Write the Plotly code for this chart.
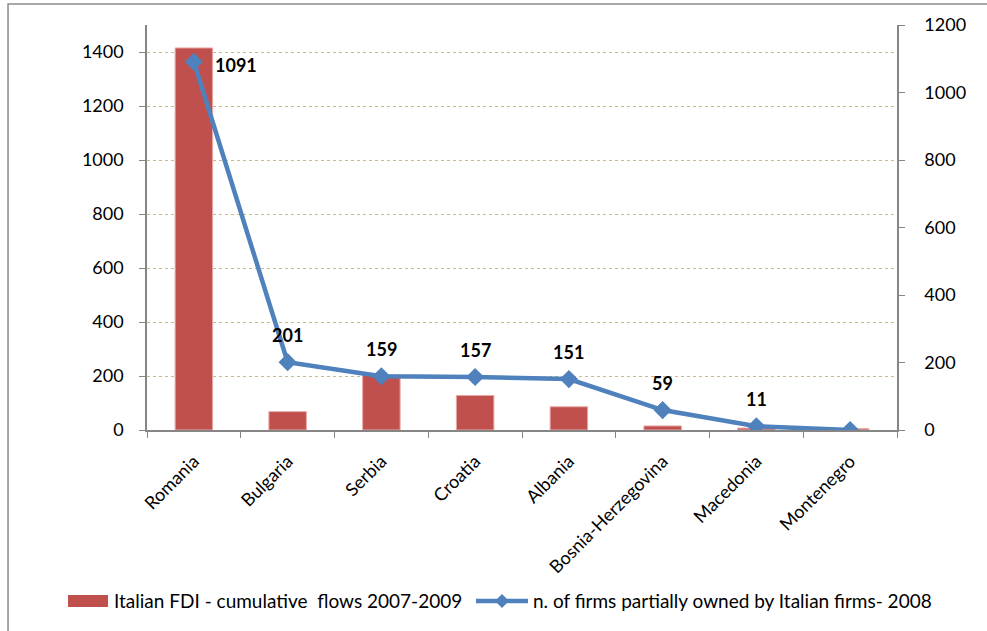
import plotly.graph_objects as go

# Countries and the two series
countries = ["Romania", "Bulgaria", "Serbia", "Croatia", "Albania",
             "Bosnia-Herzegovina", "Macedonia", "Montenegro"]
fdi_flows = [1415, 68, 204, 128, 86, 15, 7, 5]          # left axis
firms_owned = [1091, 201, 159, 157, 151, 59, 11, 0]     # right axis
firm_labels = ["1091", "201", "159", "157", "151", "59", "11", ""]

series_names = ["Italian FDI - cumulative  flows 2007-2009",
                "n. of firms partially owned by Italian firms- 2008"]

left_ticks = [0, 200, 400, 600, 800, 1000, 1200, 1400]
right_ticks = [0, 200, 400, 600, 800, 1000, 1200]

FONT = "Lato, 'Open Sans', sans-serif"
AXIS_GREY = "#868686"
BAR_RED = "#C0504D"
LINE_BLUE = "#4F81BD"

fig = go.Figure()

fig.add_trace(go.Bar(
    x=countries, y=fdi_flows,
    name=series_names[0],
    marker=dict(color=BAR_RED, line=dict(color="#E8A8A6", width=1)),
    width=0.4,
    yaxis="y",
))

fig.add_trace(go.Scatter(
    x=countries, y=firms_owned,
    name=series_names[1],
    mode="lines+markers",
    line=dict(color=LINE_BLUE, width=4.5),
    marker=dict(symbol="diamond", size=14, color=LINE_BLUE),
    yaxis="y2",
))

# Bold value labels for the line series
for i, (c, v, lab) in enumerate(zip(countries, firms_owned, firm_labels)):
    if not lab:
        continue
    if i == 0:
        xs, ys = 42, -3
    else:
        xs, ys = 0, 27
    fig.add_annotation(
        x=c, y=v, yref="y2", text=f"<b>{lab}</b>", showarrow=False,
        xshift=xs, yshift=ys,
        font=dict(family=FONT, size=18, color="#000000"),
    )

# Outer chart frame
fig.add_shape(type="rect", xref="paper", yref="paper",
              x0=-0.1853, x1=1.13, y0=-0.53, y1=1.0519,
              line=dict(color="#8c8c8c", width=1.5), fillcolor="rgba(0,0,0,0)",
              layer="below")

# Single-row legend below the chart
LEG_Y = -0.4222
fig.add_shape(type="rect", xref="paper", yref="paper",
              x0=-0.1053, x1=-0.052, y0=-0.437, y1=-0.4074,
              fillcolor=BAR_RED, line=dict(width=0))
fig.add_annotation(xref="paper", yref="paper", x=-0.0467, y=LEG_Y,
                   xanchor="left", yanchor="middle", showarrow=False,
                   text=series_names[0],
                   font=dict(family=FONT, size=19, color="#000000"))
fig.add_shape(type="line", xref="paper", yref="paper",
              x0=0.4387, x1=0.508, y0=LEG_Y, y1=LEG_Y,
              line=dict(color=LINE_BLUE, width=4.5))
fig.add_shape(type="path", xref="paper", yref="paper",
              xsizemode="pixel", ysizemode="pixel",
              xanchor=0.4733, yanchor=LEG_Y,
              path="M0,7 L7,0 L0,-7 L-7,0 Z",
              fillcolor=LINE_BLUE, line=dict(width=0))
fig.add_annotation(xref="paper", yref="paper", x=0.512, y=LEG_Y,
                   xanchor="left", yanchor="middle", showarrow=False,
                   text=series_names[1],
                   font=dict(family=FONT, size=19, color="#000000"))

fig.update_layout(
    width=987, height=631,
    margin=dict(l=147, r=90, t=25, b=201),
    paper_bgcolor="white", plot_bgcolor="white",
    font=dict(family=FONT, size=18, color="#000000"),
    bargap=0.6,
    showlegend=False,
    xaxis=dict(
        type="category",
        tickangle=-45,
        tickson="boundaries",
        ticks="outside", ticklen=6, tickcolor=AXIS_GREY,
        ticklabelstandoff=12,
        showline=True, linecolor=AXIS_GREY, linewidth=1.5,
        showgrid=False,
        tickfont=dict(family=FONT, size=18),
    ),
    yaxis=dict(
        range=[0, 1500],
        tickvals=left_ticks,
        ticks="outside", ticklen=6, tickcolor=AXIS_GREY,
        ticklabelstandoff=12,
        showline=True, linecolor=AXIS_GREY, linewidth=1.5,
        showgrid=True, gridcolor="#C9BC85", griddash="dot", gridwidth=1,
        zeroline=False,
        tickfont=dict(family=FONT, size=18),
    ),
    yaxis2=dict(
        range=[0, 1200],
        tickvals=right_ticks,
        overlaying="y", side="right",
        ticks="outside", ticklen=6, tickcolor=AXIS_GREY,
        ticklabelstandoff=16,
        showline=True, linecolor=AXIS_GREY, linewidth=1.5,
        showgrid=False, zeroline=False,
        tickfont=dict(family=FONT, size=18),
    ),
)

fig.write_html("out.html")
